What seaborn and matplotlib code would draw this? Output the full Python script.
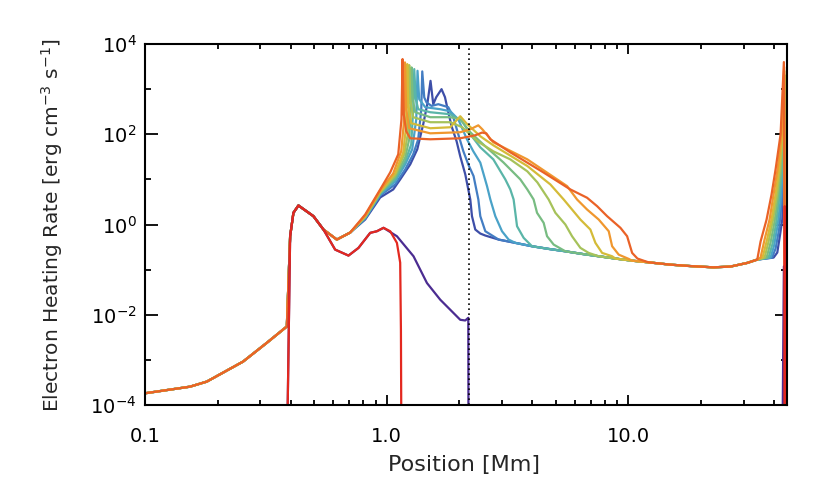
import pandas as pd
import seaborn as sns
import matplotlib.pyplot as plt
from matplotlib.ticker import FixedLocator, FixedFormatter, NullFormatter

# shared chromospheric part of the rainbow runs [Mm], [erg cm^-3 s^-1]
base_pos = [0.100, 0.1535, 0.1801, 0.2545, 0.3191, 0.3862, 0.3985, 0.4112,
            0.4313, 0.4976, 0.5474, 0.6219, 0.7063]
base_rate = [1.82e-4, 2.55e-4, 3.30e-4, 9.17e-4, 2.39e-3, 5.50e-3, 0.55, 1.82,
             2.64, 1.53, 0.774, 0.464, 0.664]

# coronal floor shared by the rainbow runs
floor_pos = [2.439, 2.558, 2.904, 3.405, 3.992, 4.677, 5.485, 6.432, 7.535,
             8.836, 10.36, 12.14, 14.93, 18.06, 22.48, 26.44, 31.01, 34.12]
floor_rate = [0.631, 0.570, 0.464, 0.392, 0.330, 0.288, 0.255, 0.223, 0.198,
              0.176, 0.158, 0.145, 0.129, 0.120, 0.1125, 0.117, 0.141, 0.167]

# run 1 (dark blue)
mid_pos_1 = [0.8148, 0.9399, 1.064, 1.137, 1.251, 1.338, 1.416, 1.472, 1.518, 1.558,
             1.603, 1.686, 1.742, 1.798, 1.855, 1.946, 2.015, 2.114, 2.175, 2.217,
             2.253, 2.325]
mid_rate_1 = [1.29, 3.98, 5.99, 10.0, 21.5, 46.4, 167, 464, 1528, 464,
              664, 1000, 664, 308, 151, 69.9, 32.4, 12.9, 5.99, 3.59,
              1.53, 0.774]
end_pos_1 = [39.86, 41.29, 42.41, 43.30, 43.76, 44.18, 44.47, 44.68]
end_rate_1 = [0.185, 0.239, 0.599, 1.29, 7.74, 32.9, 774, 1e-6]

# run 2
mid_pos_2 = [0.8148, 0.9399, 1.084, 1.193, 1.287, 1.350, 1.390, 1.403, 1.430, 1.462,
             1.533, 1.635, 1.798, 1.886, 1.977, 2.074, 2.175, 2.288, 2.394, 2.439,
             2.558]
mid_rate_2 = [1.36, 4.41, 7.74, 16.7, 35.9, 77.4, 359, 2473, 654, 506,
              425, 464, 398, 239, 100, 42.5, 21.5, 11.8, 3.59, 1.53,
              0.710]
end_pos_2 = [39.29, 40.63, 42.00, 42.93, 43.59, 44.09, 44.43, 44.68]
end_rate_2 = [0.185, 0.293, 0.774, 2.64, 10.0, 46.4, 903, 1e-6]

# run 3
mid_pos_3 = [0.8148, 0.9399, 1.084, 1.193, 1.275, 1.325, 1.341, 1.363, 1.444, 1.665,
             1.832, 1.977, 2.148, 2.282, 2.439, 2.600, 2.684, 2.814, 2.999, 3.194]
mid_rate_3 = [1.39, 4.64, 9.03, 21.5, 46.4, 215, 2553, 599, 398, 359,
              324, 215, 77.4, 41.9, 23.5, 7.10, 3.59, 1.53, 0.710, 0.464]
end_pos_3 = [38.73, 40.05, 41.41, 42.53, 43.34, 43.97, 44.39, 44.68]
end_rate_3 = [0.185, 0.341, 0.950, 3.08, 11.1, 59.9, 1108, 1e-6]

# run 4
mid_pos_4 = [0.8148, 0.9399, 1.084, 1.193, 1.263, 1.287, 1.300, 1.319, 1.350, 1.514,
             1.832, 2.054, 2.217, 2.439, 2.761, 3.095, 3.246, 3.350, 3.405, 3.461,
             3.686]
mid_rate_4 = [1.43, 4.89, 10.0, 25.1, 59.9, 359, 2783, 599, 359, 308,
              278, 194, 100, 51.4, 27.8, 10.0, 5.99, 3.59, 1.82, 0.917,
              0.506]
end_pos_4 = [38.00, 39.48, 40.82, 42.00, 43.10, 43.84, 44.34, 44.68]
end_rate_4 = [0.185, 0.378, 1.05, 3.59, 12.9, 77.4, 1359, 1e-6]

# run 5
mid_pos_5 = [0.8148, 0.9399, 1.084, 1.193, 1.239, 1.257, 1.267, 1.281, 1.312, 1.514,
             1.832, 2.015, 2.217, 2.558, 3.037, 3.571, 3.817, 4.053, 4.187, 4.460,
             4.607, 4.906]
mid_rate_5 = [1.47, 5.01, 11.1, 30.8, 77.4, 359, 3034, 599, 308, 239,
              239, 215, 111, 54.1, 23.9, 10.0, 5.99, 3.59, 1.82, 1.09,
              0.55, 0.359]
end_pos_5 = [37.29, 38.73, 40.24, 41.61, 42.81, 43.68, 44.30, 44.68]
end_rate_5 = [0.185, 0.398, 1.166, 4.19, 15.1, 85.8, 1668, 1e-6]

# run 6
mid_pos_6 = [0.8148, 0.9399, 1.084, 1.182, 1.222, 1.233, 1.239, 1.251, 1.287, 1.514,
             1.832, 2.054, 2.363, 2.761, 3.246, 3.817, 4.201, 4.677, 4.986, 5.485,
             5.845, 6.327, 6.848]
mid_rate_6 = [1.51, 5.14, 12.3, 35.9, 100, 464, 3415, 599, 239, 185,
              185, 143, 71.0, 41.9, 27.8, 15.1, 8.58, 3.59, 1.82, 1.0,
              0.55, 0.304, 0.235]
end_pos_6 = [36.58, 38.00, 39.67, 41.21, 42.41, 43.51, 44.26, 44.68]
end_rate_6 = [0.185, 0.419, 1.29, 4.64, 16.7, 100, 2047, 1e-6]

# run 7
mid_pos_7 = [0.8148, 0.9399, 1.084, 1.171, 1.199, 1.210, 1.216, 1.227, 1.263, 1.514,
             1.832, 2.015, 2.134, 2.439, 2.761, 3.817, 4.753, 5.397, 5.845, 6.327,
             6.960, 7.302, 7.784, 8.563]
mid_rate_7 = [1.54, 5.41, 13.6, 39.8, 129, 599, 3594, 464, 176, 136,
              143, 251, 176, 90.3, 57.0, 19.8, 7.74, 3.59, 2.15, 1.29,
              0.774, 0.392, 0.235, 0.198]
end_pos_7 = [35.89, 37.29, 39.10, 40.63, 42.00, 43.30, 44.18, 44.68]
end_rate_7 = [0.185, 0.419, 1.29, 4.64, 16.7, 100, 2512, 1e-6]

# run 8
mid_pos_8 = [0.8148, 0.9399, 1.064, 1.148, 1.176, 1.184, 1.190, 1.204, 1.239, 1.514,
             2.015, 2.217, 2.393, 2.486, 2.761, 3.817, 5.577, 6.130, 6.745, 7.535,
             8.290, 8.563, 9.117, 10.03]
mid_rate_8 = [1.585, 5.70, 13.6, 41.9, 167, 774, 3918, 359, 136, 105,
              111, 129, 158, 129, 66.4, 27.8, 7.10, 3.59, 2.15, 1.29,
              0.710, 0.330, 0.215, 0.173]
end_pos_8 = [35.21, 36.58, 38.37, 39.86, 41.41, 43.01, 44.09, 44.68]
end_rate_8 = [0.185, 0.464, 1.29, 4.64, 16.7, 100, 3085, 1e-6]

# run 9 (red-orange, last)
mid_pos_9 = [0.8148, 0.9399, 1.034, 1.116, 1.151, 1.163, 1.176, 1.204, 1.251, 1.514,
             2.015, 2.325, 2.479, 2.582, 2.684, 3.246, 4.447, 5.752, 6.745, 7.421,
             8.164, 9.267, 9.877, 10.36, 10.90, 11.76]
mid_rate_9 = [1.67, 5.99, 14.3, 35.9, 215, 4642, 278, 117, 81.5, 77.4,
              81.5, 95.0, 109, 105, 77.4, 39.8, 14.3, 5.99, 3.92, 2.55,
              1.53, 0.845, 0.55, 0.235, 0.176, 0.153]
end_pos_9 = [35.21, 37.29, 39.10, 40.63, 42.61, 43.97, 44.68]
end_rate_9 = [0.419, 1.29, 4.64, 16.7, 100, 3981, 1e-6]

# the two lower runs
purple_pos = [0.3870, 0.3985, 0.4112, 0.4313, 0.4976, 0.5474, 0.6118, 0.6948, 0.7641,
              0.8545, 0.9108, 0.9701, 1.102, 1.291, 1.467, 1.665, 2.015, 2.114, 2.175,
              2.181, 43.21, 43.97, 44.18]
purple_rate = [1e-5, 0.55, 1.82, 2.64, 1.53, 0.774, 0.278, 0.205, 0.303,
               0.654, 0.710, 0.845, 0.55, 0.198, 0.0506, 0.0216, 7.74e-3, 7.47e-3, 8.58e-3,
               1e-6, 1e-6, 0.118, 1e-6]
red_pos = [0.3870, 0.3985, 0.4112, 0.4313, 0.4976, 0.5474, 0.6118, 0.6948, 0.7641,
           0.8545, 0.9108, 0.9701, 1.034, 1.102, 1.137, 1.145, 1.152, 44.18, 44.34, 44.55]
red_rate = [1e-5, 0.55, 1.82, 2.64, 1.53, 0.774, 0.278, 0.205, 0.303,
            0.654, 0.710, 0.845, 0.710, 0.392, 0.143, 4.64e-3, 1e-6, 1e-6, 2.55, 1e-6]

rainbow = ['#3d4ea8', '#437dc3', '#4aa2c8', '#5ab5a8', '#78bc82',
           '#a6c25a', '#d4bb38', '#f0972e', '#ea6227']

mids = [(mid_pos_1, mid_rate_1, end_pos_1, end_rate_1),
        (mid_pos_2, mid_rate_2, end_pos_2, end_rate_2),
        (mid_pos_3, mid_rate_3, end_pos_3, end_rate_3),
        (mid_pos_4, mid_rate_4, end_pos_4, end_rate_4),
        (mid_pos_5, mid_rate_5, end_pos_5, end_rate_5),
        (mid_pos_6, mid_rate_6, end_pos_6, end_rate_6),
        (mid_pos_7, mid_rate_7, end_pos_7, end_rate_7),
        (mid_pos_8, mid_rate_8, end_pos_8, end_rate_8),
        (mid_pos_9, mid_rate_9, end_pos_9, end_rate_9)]

frames = []
for i, (mp, mr, ep, er) in enumerate(mids):
    fp = [p for p in floor_pos if mp[-1] < p < ep[0]]
    fr = [r for p, r in zip(floor_pos, floor_rate) if mp[-1] < p < ep[0]]
    pos = base_pos + mp + fp + ep
    rate = base_rate + mr + fr + er
    frames.append(pd.DataFrame({'pos': pos, 'rate': rate, 'run': f'r{i + 1}'}))
frames.append(pd.DataFrame({'pos': purple_pos, 'rate': purple_rate, 'run': 'purple'}))
frames.append(pd.DataFrame({'pos': red_pos, 'rate': red_rate, 'run': 'red'}))
df = pd.concat(frames, ignore_index=True)

order = [f'r{i + 1}' for i in range(9)] + ['purple', 'red']
palette = dict(zip(order, rainbow + ['#4b2c91', '#e3281f']))

sns.set_style('ticks')
plt.rcParams['font.family'] = ['DejaVu Sans']
plt.rcParams['mathtext.fontset'] = 'dejavusans'

fig = plt.figure(figsize=(8.3, 4.98), dpi=100)
ax = fig.add_axes([0.1747, 0.1867, 0.7735, 0.7249])

sns.lineplot(data=df, x='pos', y='rate', hue='run', hue_order=order,
             palette=palette, sort=False, estimator=None, legend=False,
             linewidth=1.6, ax=ax)

ax.axvline(2.18, color='black', linestyle=(0, (1, 2)), linewidth=1.2)

ax.set_xscale('log')
ax.set_yscale('log')
ax.set_xlim(0.1, 45.3)
ax.set_ylim(1e-4, 1e4)

ax.xaxis.set_major_locator(FixedLocator([0.1, 1, 10]))
ax.xaxis.set_major_formatter(FixedFormatter(['0.1', '1.0', '10.0']))
ax.xaxis.set_minor_locator(FixedLocator([0.2, 0.3, 0.4, 0.5, 0.6, 0.7, 0.8, 0.9,
                                         2, 3, 4, 5, 6, 7, 8, 9, 20, 30, 40]))
ax.xaxis.set_minor_formatter(NullFormatter())
ax.yaxis.set_major_locator(FixedLocator([1e-4, 1e-2, 1, 1e2, 1e4]))
ax.yaxis.set_major_formatter(FixedFormatter([r'$10^{-4}$', r'$10^{-2}$', r'$10^{0}$',
                                             r'$10^{2}$', r'$10^{4}$']))
ax.yaxis.set_minor_locator(FixedLocator([1e-3, 1e-1, 10, 1e3]))
ax.yaxis.set_minor_formatter(NullFormatter())

ax.tick_params(axis='both', which='both', direction='in', top=True, right=True,
               width=1.3, colors='black', labelsize=14)
ax.tick_params(axis='x', which='major', length=7, pad=16)
ax.tick_params(axis='x', which='minor', length=3.5)
ax.tick_params(axis='y', which='major', length=9, pad=6)
ax.tick_params(axis='y', which='minor', length=4.5)
for s in ax.spines.values():
    s.set_linewidth(1.5)
    s.set_color('black')

ax.set_xlabel('Position [Mm]', fontsize=16)
ax.set_ylabel(r'Electron Heating Rate [erg cm$^{-3}$ s$^{-1}$]', fontsize=14.5)
ax.xaxis.set_label_coords(0.497, -0.138)
ax.yaxis.set_label_coords(-0.124, 0.5)

fig.savefig('out.png', dpi=100)
